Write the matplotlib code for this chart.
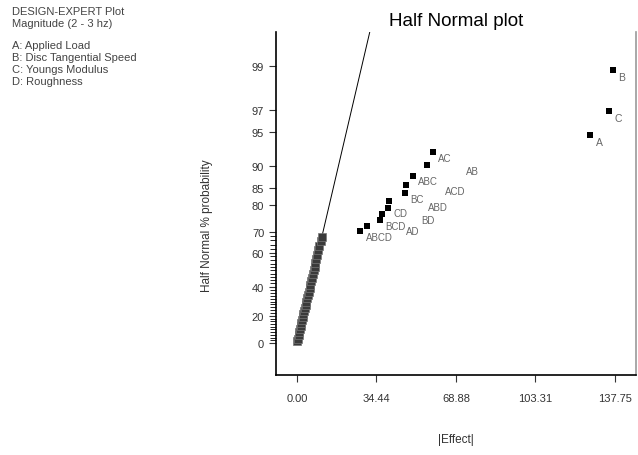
#Matplotlib
import matplotlib
matplotlib.use("Agg")
import matplotlib.pyplot as plt
from statistics import NormalDist

#Datos leidos del grafico
#efectos pequenos (la nube sobre la recta)
small_effect = [0.2, 0.5, 0.8, 1.0, 1.3, 1.6, 1.9, 2.2, 2.5, 2.8, 3.1, 3.4, 3.8, 4.1, 4.4, 4.8,
                5.1, 5.5, 5.8, 6.2, 6.5, 6.9, 7.3, 7.7, 8.0, 8.4, 8.8, 9.3, 9.7, 10.2, 10.7]
small_prob = [1.1, 3.3, 5.6, 7.8, 10.0, 12.2, 14.4, 16.7, 18.9, 21.1, 23.3, 25.6, 27.8, 30.0, 32.2, 34.4,
              36.7, 38.9, 41.1, 43.3, 45.6, 47.8, 50.0, 52.2, 54.4, 56.7, 58.9, 61.1, 63.3, 65.6, 67.8]

#interacciones
inter_names = ["ABCD", "AD", "BCD", "BD", "CD", "ABD", "BC", "ACD", "ABC", "AB", "AC"]
inter_effect = [27.3, 30.3, 36.0, 36.8, 39.4, 39.9, 46.8, 47.2, 50.2, 56.3, 58.9]
inter_prob = [70.2, 72.4, 74.7, 76.9, 79.1, 81.3, 83.6, 85.8, 88.0, 90.2, 92.4]

#efectos principales
main_names = ["A", "C", "B"]
main_effect = [127.0, 135.2, 136.9]
main_prob = [94.7, 96.9, 98.9]

#recta de referencia (efecto por unidad normal)
line_slope = 10.9

y_ticks = [0, 20, 40, 60, 70, 80, 85, 90, 95, 97, 99]
x_ticks = [0.00, 34.44, 68.88, 103.31, 137.75]
x_tick_labels = ["0.00", "34.44", "68.88", "103.31", "137.75"]

info_lines = ["DESIGN-EXPERT Plot", "Magnitude (2 - 3 hz)", "",
              "A: Applied Load", "B: Disc Tangential Speed", "C: Youngs Modulus", "D: Roughness"]

nd = NormalDist()

#Convierte porcentaje a escala half normal
def half_z(p):
    return nd.inv_cdf(0.5 + p / 200.0)

plt.rcParams['font.family'] = ['Liberation Sans', 'DejaVu Sans']

fig = plt.figure(figsize=(6.38, 4.56), dpi=100)
ax = fig.add_axes([276 / 638, 1 - 376 / 456, 360 / 638, 343 / 456])

#recta
zl = [0.0, 3.2]
ax.plot([z * line_slope for z in zl], zl, color="black", lw=0.7, zorder=1)

#puntos
ax.scatter(small_effect, [half_z(p) for p in small_prob], marker="s", s=26,
           color="#3a3a3a", edgecolors="#777777", linewidths=0.5, zorder=3)
ax.scatter(inter_effect, [half_z(p) for p in inter_prob], marker="s", s=24,
           color="black", linewidths=0, zorder=3)
ax.scatter(main_effect, [half_z(p) for p in main_prob], marker="s", s=24,
           color="black", linewidths=0, zorder=3)

#etiquetas (las de interacciones alternadas para que no se pisen tanto)
for i, (name, x, p) in enumerate(zip(inter_names, inter_effect, inter_prob)):
    dx = 4 if i % 2 == 0 else 28
    ax.annotate(name, (x, half_z(p)), xytext=(dx, -4), textcoords="offset points",
                fontsize=7, color="#666666", va="center", ha="left")
for name, x, p in zip(main_names, main_effect, main_prob):
    ax.annotate(name, (x, half_z(p)), xytext=(4, -5), textcoords="offset points",
                fontsize=7.5, color="#666666", va="center", ha="left")

#Configura los ejes
ax.set_xlim(-9.1, 146.9)
ax.set_ylim(-0.298, 2.893)
ax.set_xticks(x_ticks)
ax.set_xticklabels(x_tick_labels)
ax.set_yticks([half_z(p) for p in y_ticks])
ax.set_yticklabels([str(p) for p in y_ticks])
ax.set_yticks([half_z(p) for p in range(2, 70, 2)], minor=True)
ax.tick_params(axis="both", labelsize=8, colors="#333333", length=5, width=0.8)
ax.tick_params(axis="y", which="minor", length=4, width=0.6, color="black")
ax.tick_params(axis="x", pad=8)

ax.spines["top"].set_visible(False)
ax.spines["right"].set_color("#999999")
ax.spines["right"].set_linewidth(1.2)
ax.spines["left"].set_linewidth(1.2)
ax.spines["bottom"].set_linewidth(1.2)

#Titulo
fig.text(456 / 638, 1 - 21 / 456, "Half Normal plot", fontsize=13.5, ha="center", va="center")
fig.text(456 / 638, 1 - 440 / 456, "|Effect|", fontsize=8.5, color="#333333", ha="center", va="center")
fig.text(207 / 638, 1 - 226 / 456, "Half Normal % probability", fontsize=8.5, color="#333333",
         rotation=90, ha="center", va="center")

#texto de la izquierda
y0 = 12
for line in info_lines:
    if line:
        fig.text(12 / 638, 1 - y0 / 456, line, fontsize=8, color="#444444", ha="left", va="center")
    y0 += 12 if line else 10

fig.savefig("out.png", dpi=100)
